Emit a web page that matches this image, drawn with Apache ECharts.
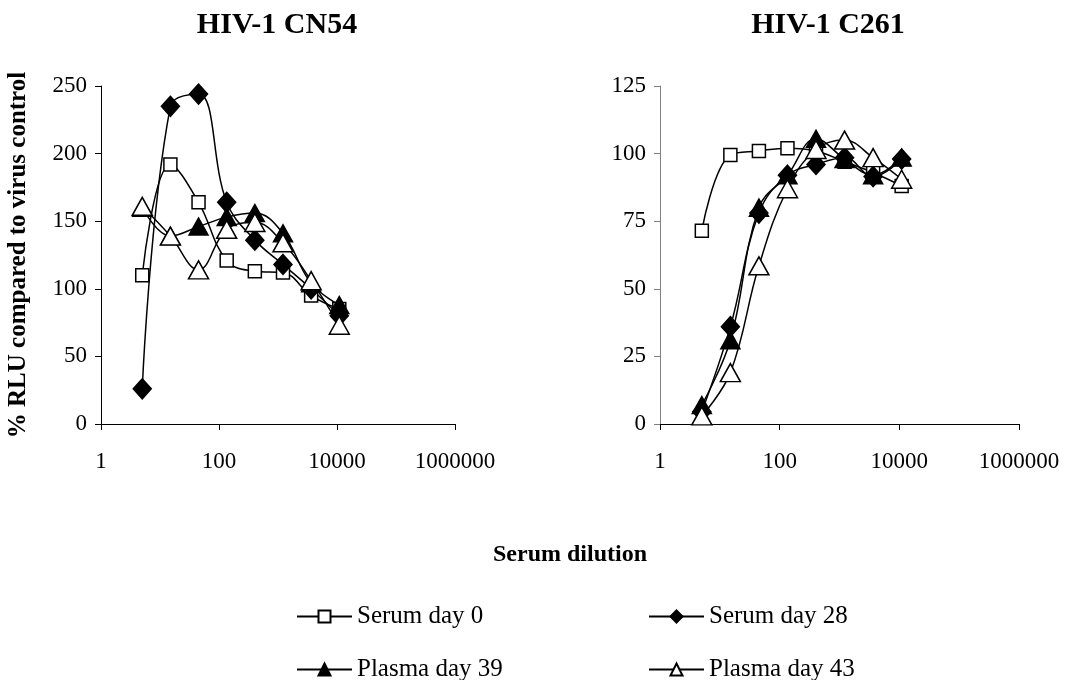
<!DOCTYPE html>
<html>
<head>
<meta charset="utf-8">
<script src="https://cdn.jsdelivr.net/npm/echarts@6/dist/echarts.min.js"></script>
<style>
    html, body { margin: 0; padding: 0; background: #fff; }
    #chart { width: 1074px; height: 680px; }
</style>
</head>
<body>
<div id="chart"></div>
<script>
// serum dilutions (3-fold series)
const dilutions = [5, 15, 45, 135, 405, 1215, 3645, 10935]

// HIV-1 CN54, % RLU
const cn54Day0 = [110, 192, 164, 121, 113, 112, 95, 85]
const cn54Day28 = [26, 235, 244, 164, 136, 118, 100, 80]
const cn54Day39 = [160, 139, 146, 153, 156, 141, 104, 88]
const cn54Day43 = [161, 139, 114, 144, 149, 134, 106, 73]

// HIV-1 C261, % RLU
const c261Day0 = [71.5, 99.5, 101, 102, 101, 97, 93, 88]
const c261Day28 = [4.5, 36, 78, 92, 96, 98.5, 91.5, 98]
const c261Day39 = [7, 31, 80, 92, 105.5, 98, 92, 98.5]
const c261Day43 = [3, 19, 58.5, 87, 101.5, 105, 98.5, 90.5]

const names = ['Serum day 0', 'Serum day 28', 'Plasma day 39', 'Plasma day 43']

const FONT = 'Liberation Serif'

// marker look per series
const markers = {
    'Serum day 0': { symbol: 'rect', size: 13, fill: '#fff' },
    'Serum day 28': { symbol: 'diamond', size: [18, 20], fill: '#000' },
    'Plasma day 39': { symbol: 'triangle', size: [19, 17], fill: '#000' },
    'Plasma day 43': { symbol: 'triangle', size: [20, 18], fill: '#fff' }
}

function pairs(values) {
    return dilutions.map((d, i) => [d, values[i]])
}

function makeSeries(name, values, idx) {
    let m = markers[name]
    return {
        name: name,
        type: 'line',
        xAxisIndex: idx,
        yAxisIndex: idx,
        data: pairs(values),
        smooth: 0.4,
        symbol: m.symbol,
        symbolSize: m.size,
        lineStyle: { color: '#000', width: 1.5 },
        itemStyle: { color: m.fill, borderColor: '#000', borderWidth: 1.5 },
        emphasis: { disabled: true },
        animation: false
    }
}

function xAxis(idx) {
    return {
        type: 'log',
        logBase: 10,
        gridIndex: idx,
        min: 1,
        max: 1000000,
        interval: 2,
        axisLine: { lineStyle: { color: '#000', width: 1 } },
        axisTick: { show: true, length: 6, lineStyle: { color: '#000' } },
        axisLabel: {
            margin: 26,
            fontFamily: FONT,
            fontSize: 23,
            color: '#000',
            showMaxLabel: true,
            hideOverlap: false,
            formatter: v => String(Math.round(v))
        },
        splitLine: { show: false }
    }
}

function yAxis(idx, max, interval, lineColor) {
    return {
        type: 'value',
        gridIndex: idx,
        min: 0,
        max: max,
        interval: interval,
        axisLine: { show: true, lineStyle: { color: lineColor, width: 1 } },
        axisTick: { show: true, length: 6, lineStyle: { color: lineColor } },
        axisLabel: {
            margin: 14,
            fontFamily: FONT,
            fontSize: 23,
            color: '#000'
        },
        splitLine: { show: false }
    }
}

function legendItem(name, left, top) {
    return {
        data: [name],
        left: left,
        top: top,
        itemWidth: 55,
        itemHeight: 15,
        itemGap: 6,
        selectedMode: false,
        textStyle: { fontFamily: FONT, fontSize: 25, color: '#000' }
    }
}

let chart = echarts.init(document.getElementById('chart'), null, { renderer: 'canvas' })

let option = {
    backgroundColor: '#fff',
    animation: false,
    title: [
        {
            text: 'HIV-1 CN54', left: 272, top: 5, textAlign: 'center',
            textStyle: { fontFamily: FONT, fontSize: 30, fontWeight: 'bold', color: '#000' }
        },
        {
            text: 'HIV-1 C261', left: 823, top: 5, textAlign: 'center',
            textStyle: { fontFamily: FONT, fontSize: 30, fontWeight: 'bold', color: '#000' }
        },
        {
            text: 'Serum dilution', left: 565, top: 538, textAlign: 'center',
            textStyle: { fontFamily: FONT, fontSize: 24, fontWeight: 'bold', color: '#000' }
        }
    ],
    grid: [
        { left: 101, top: 86, width: 354, height: 338 },
        { left: 660, top: 86, width: 359, height: 338 }
    ],
    xAxis: [xAxis(0), xAxis(1)],
    yAxis: [
        Object.assign(yAxis(0, 250, 50, '#000'), {
            name: '% RLU compared to virus control',
            nameLocation: 'middle',
            nameRotate: 90,
            nameGap: 70,
            nameTextStyle: { fontFamily: FONT, fontSize: 25, fontWeight: 'bold', color: '#000' }
        }),
        yAxis(1, 125, 25, '#808080')
    ],
    legend: [
        legendItem(names[0], 291, 599),
        legendItem(names[1], 643, 599),
        legendItem(names[2], 291, 652),
        legendItem(names[3], 643, 652)
    ],
    series: [
        makeSeries(names[0], cn54Day0, 0),
        makeSeries(names[1], cn54Day28, 0),
        makeSeries(names[2], cn54Day39, 0),
        makeSeries(names[3], cn54Day43, 0),
        makeSeries(names[0], c261Day0, 1),
        makeSeries(names[1], c261Day28, 1),
        makeSeries(names[2], c261Day39, 1),
        makeSeries(names[3], c261Day43, 1)
    ]
}

chart.setOption(option)
</script>
</body>
</html>
